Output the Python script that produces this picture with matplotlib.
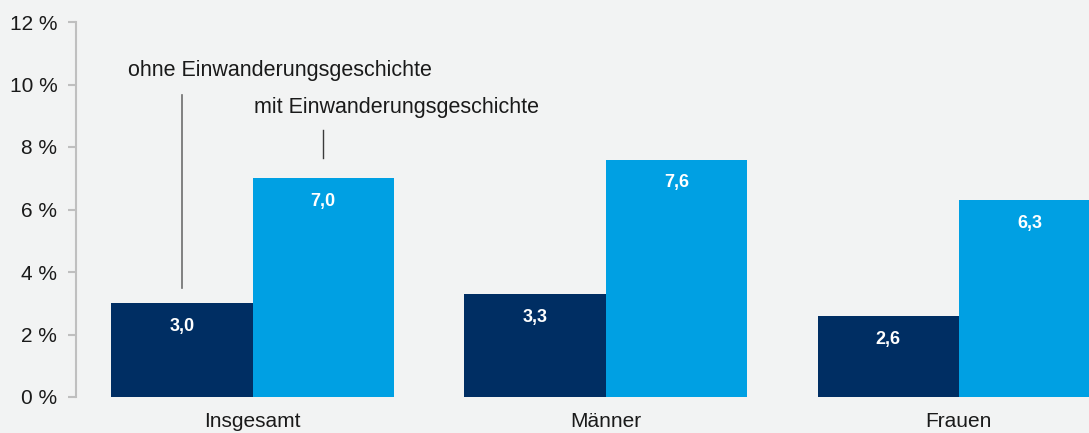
import numpy as np
import matplotlib
matplotlib.use("Agg")
from matplotlib import pyplot as plt

# Data
categories = ["Insgesamt", "Männer", "Frauen"]
ohne_values = [3.0, 3.3, 2.6]
mit_values = [7.0, 7.6, 6.3]
y_ticks = [0, 2, 4, 6, 8, 10, 12]

# Colours
bg_color = "#f2f3f3"
dark_blue = "#002e63"
light_blue = "#00a0e3"
axis_gray = "#bfbfbf"

plt.rcParams["font.family"] = ["Liberation Sans", "DejaVu Sans"]

fig = plt.figure(figsize=(10.89, 4.33), dpi=100, facecolor=bg_color)
ax = fig.add_axes([76 / 1089, 36 / 433, 1 - 76 / 1089, 375 / 433])
ax.set_facecolor(bg_color)

x = np.arange(len(categories))
bar_w = 0.4
ax.bar(x - bar_w / 2, ohne_values, width=bar_w, color=dark_blue)
ax.bar(x + bar_w / 2, mit_values, width=bar_w, color=light_blue)

# Value labels inside bars
for xi, v in zip(x, ohne_values):
    ax.text(xi - bar_w / 2, v - 0.75, f"{v:.1f}".replace(".", ","), ha="center", va="center",
            color="white", fontsize=13, fontweight="bold")
for xi, v in zip(x, mit_values):
    ax.text(xi + bar_w / 2, v - 0.75, f"{v:.1f}".replace(".", ","), ha="center", va="center",
            color="white", fontsize=13, fontweight="bold")

# Series annotations with leader lines
ax.plot([-0.2, -0.2], [3.49, 9.66], color="#6d6d6d", lw=1.2)
ax.text(-0.354, 10.46, "ohne Einwanderungsgeschichte", ha="left", va="center", fontsize=15.5, color="#1a1a1a")
ax.plot([0.198, 0.198], [7.65, 8.54], color="#3a3a3a", lw=1.0)
ax.text(0.003, 9.25, "mit Einwanderungsgeschichte", ha="left", va="center", fontsize=15.5, color="#1a1a1a")

# Axes styling
ax.set_xlim(-0.5, (1089 - 253) / 353)
ax.set_ylim(0, 12)
ax.set_yticks(y_ticks)
ax.set_yticklabels([f"{t} %" for t in y_ticks])
ax.set_xticks(x)
ax.set_xticklabels(categories)

for side in ["top", "right", "bottom"]:
    ax.spines[side].set_visible(False)
ax.spines["left"].set_color(axis_gray)
ax.spines["left"].set_linewidth(1.5)

ax.tick_params(axis="y", length=6, width=1.5, color=axis_gray, pad=7.5, labelsize=15, labelcolor="#1a1a1a")
ax.tick_params(axis="x", length=0, pad=11, labelsize=15, labelcolor="#1a1a1a")

fig.savefig("out.png", dpi=100, facecolor=bg_color)
